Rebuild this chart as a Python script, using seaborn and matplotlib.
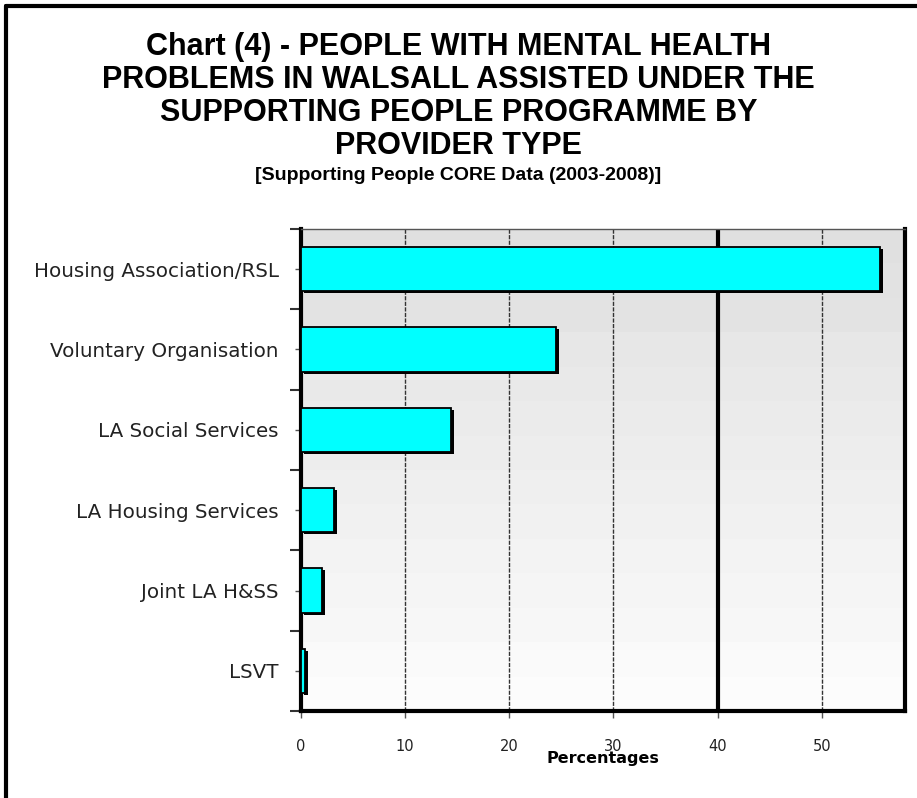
import matplotlib
matplotlib.use("Agg")
import matplotlib.pyplot as plt
import matplotlib.patheffects as pe
from matplotlib.lines import Line2D
import numpy as np
import pandas as pd
import seaborn as sns

categories = ["Housing Association/RSL", "Voluntary Organisation", "LA Social Services",
              "LA Housing Services", "Joint LA H&SS", "LSVT"]
percentages = [55.6, 24.5, 14.4, 3.2, 2.0, 0.4]
xticks = [0, 10, 20, 30, 40, 50]

df = pd.DataFrame({"Provider": categories, "Percent": percentages})

sns.set_theme(style="white")
plt.rcParams["font.family"] = ["DejaVu Sans"]

fig = plt.figure(figsize=(9.17, 7.98), dpi=100)
ax = fig.add_axes([301/917, 1-711/798, (905-301)/917, (711-229)/798])

XMAX = 58.0
# background gradient (grey at top to near white at bottom)
grad = np.linspace(0.878, 0.985, 14).reshape(-1, 1)
ax.imshow(grad, cmap="gray", vmin=0, vmax=1, aspect="auto",
          extent=(0, XMAX, 5.5, -0.5), origin="upper", zorder=0, interpolation="nearest")

sns.barplot(data=df, y="Provider", x="Percent", orient="h", color="#00FFFF",
            saturation=1, width=0.55, edgecolor="black", linewidth=1.3, ax=ax, zorder=3)
for p in ax.patches:
    p.set_path_effects([pe.SimplePatchShadow(offset=(2, -1.5), shadow_rgbFace="black", alpha=1),
                        pe.Normal()])

for v in xticks[1:]:
    if v == 40:
        ax.axvline(v, color="black", lw=3, zorder=1)
    else:
        ax.axvline(v, color="#333333", lw=1, ls=(0, (3, 1)), zorder=1)

ax.set_xlim(0, XMAX)
ax.set_ylim(5.5, -0.5)
ax.set_xticks(xticks)
ax.set_xticklabels([str(v) for v in xticks], fontsize=10.5, color="#222222")
ax.set_yticks(range(len(categories)))
ax.set_yticklabels(categories, fontsize=14.3, color="#222222")
ax.set_yticks(np.arange(-0.5, 6, 1), minor=True)
ax.tick_params(axis="y", which="major", direction="out", length=4, width=1, color="#555555", pad=12, left=True)
ax.tick_params(axis="y", which="minor", direction="out", length=8, width=1.5, color="#333333", left=True)
ax.tick_params(axis="x", which="major", direction="out", length=5, width=1, color="#555555", pad=15, bottom=True)
ax.set_ylabel("")
ax.set_xlabel("Percentages", fontsize=11.5, fontweight="bold", labelpad=-2, color="black")

for s in ["left", "bottom", "right"]:
    ax.spines[s].set_visible(True)
    ax.spines[s].set_color("black")
    ax.spines[s].set_linewidth(3)
ax.spines["top"].set_color("#555555")
ax.spines["top"].set_linewidth(1)

fig.text(0.5, 1-32/798,
         "Chart (4) - PEOPLE WITH MENTAL HEALTH\nPROBLEMS IN WALSALL ASSISTED UNDER THE\nSUPPORTING PEOPLE PROGRAMME BY\nPROVIDER TYPE",
         ha="center", va="top", fontsize=22, fontweight="bold", family="Liberation Sans",
         linespacing=1.13, color="black")
fig.text(0.5, 1-175/798, "[Supporting People CORE Data (2003-2008)]",
         ha="center", va="center", fontsize=14, fontweight="bold", family="Liberation Sans",
         color="black")

# figure frame (left and top edges)
fig.add_artist(Line2D([6/917, 6/917], [0, 1-6/798], color="black", lw=3, transform=fig.transFigure))
fig.add_artist(Line2D([6/917, 1], [1-6/798, 1-6/798], color="black", lw=3, transform=fig.transFigure))

fig.savefig("out.png", dpi=100)
